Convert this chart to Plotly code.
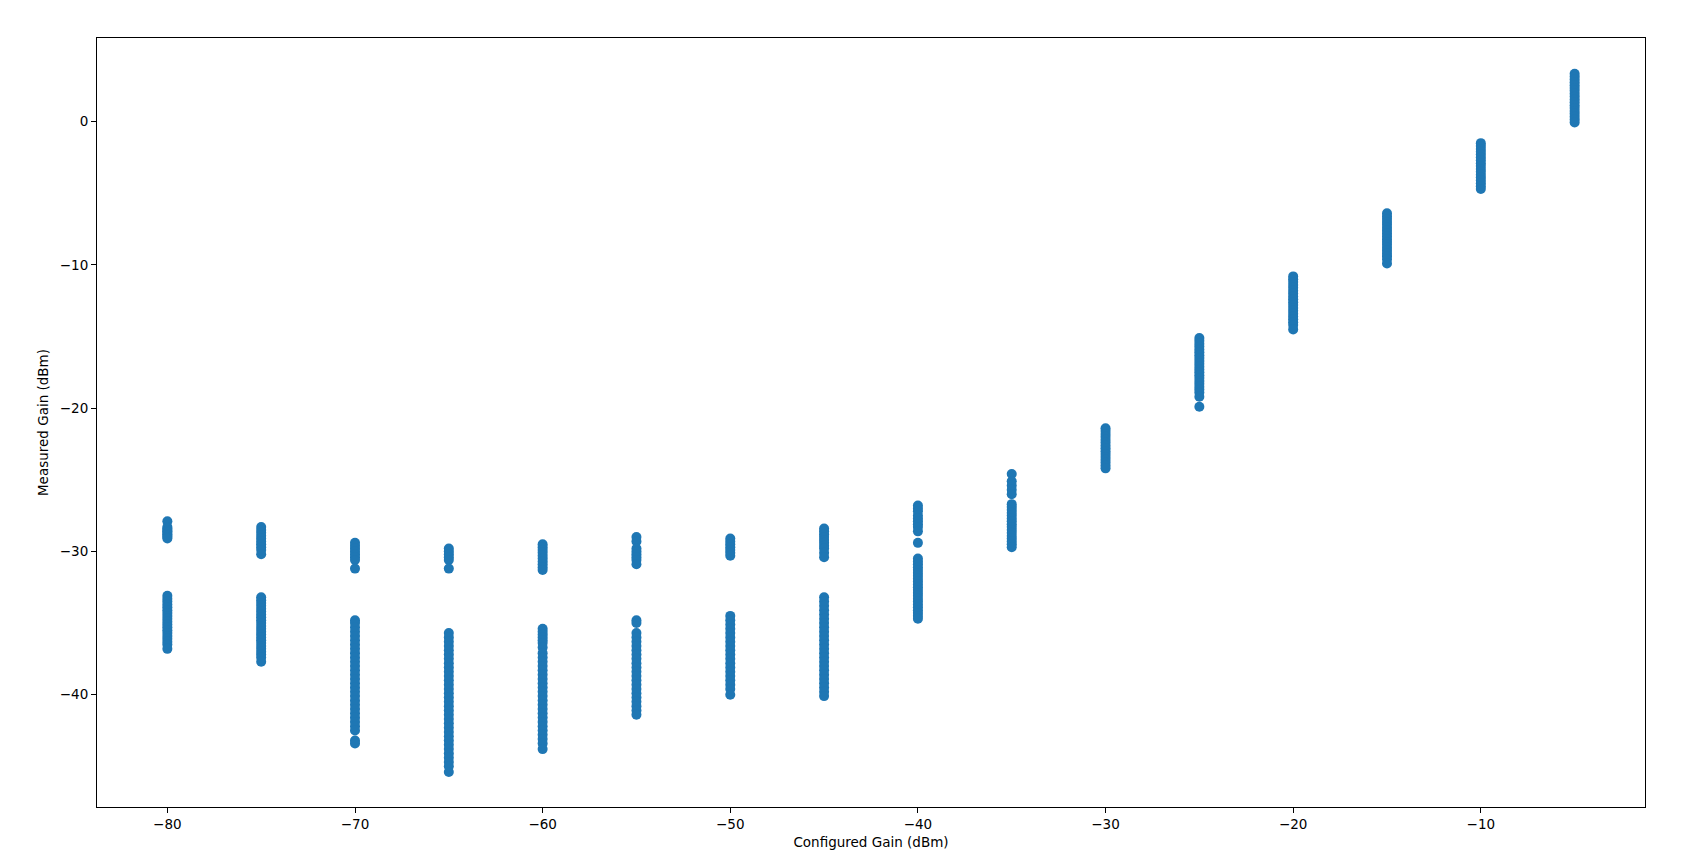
import plotly.graph_objects as go

# Configured gain settings (dBm)
configured = [-80, -75, -70, -65, -60, -55, -50, -45, -40, -35, -30, -25, -20, -15, -10, -5]

# Measured gain readings (dBm) for each configured setting
meas_m80 = [-27.9, -28.3, -28.4, -28.5, -28.6, -28.7, -28.8, -28.9, -29.0, -29.1,
            -33.1, -33.3, -33.5, -33.7, -33.9, -34.1, -34.3, -34.5, -34.7, -34.9,
            -35.1, -35.3, -35.5, -35.7, -35.9, -36.1, -36.3, -36.5, -36.8]
meas_m75 = [-28.3, -28.5, -28.7, -28.9, -29.1, -29.3, -29.5, -29.7, -29.9, -30.2,
            -33.2, -33.4, -33.6, -33.8, -34.0, -34.2, -34.4, -34.6, -34.8, -35.0,
            -35.2, -35.4, -35.6, -35.8, -36.0, -36.2, -36.4, -36.6, -36.8, -37.0,
            -37.2, -37.4, -37.7]
meas_m70 = [-29.4, -29.6, -29.8, -30.0, -30.2, -30.4, -30.6, -31.2,
            -34.8, -35.0, -35.3, -35.6, -35.9, -36.2, -36.5, -36.8, -37.1, -37.4,
            -37.7, -38.0, -38.3, -38.6, -38.9, -39.2, -39.5, -39.8, -40.1, -40.4,
            -40.7, -41.0, -41.3, -41.6, -41.9, -42.2, -42.5, -43.2, -43.4]
meas_m65 = [-29.8, -30.0, -30.2, -30.4, -30.6, -31.2,
            -35.7, -36.0, -36.3, -36.6, -36.9, -37.2, -37.5, -37.8, -38.1, -38.4,
            -38.7, -39.0, -39.3, -39.6, -39.9, -40.2, -40.5, -40.8, -41.1, -41.4,
            -41.7, -42.0, -42.3, -42.6, -42.9, -43.2, -43.5, -43.8, -44.1, -44.4,
            -44.7, -45.0, -45.4]
meas_m60 = [-29.5, -29.7, -29.9, -30.1, -30.3, -30.5, -30.7, -30.9, -31.1, -31.3,
            -35.4, -35.6, -35.8, -36.0, -36.2, -36.4, -36.7,
            -37.1, -37.4, -37.7, -38.0, -38.3, -38.6, -38.9, -39.2, -39.5, -39.8,
            -40.1, -40.4, -40.7, -41.0, -41.3, -41.6, -41.9, -42.2, -42.5, -42.8,
            -43.1, -43.4, -43.8]
meas_m55 = [-29.0, -29.3, -29.8, -30.0, -30.2, -30.4, -30.6, -30.9,
            -34.8, -35.0,
            -35.7, -36.0, -36.3, -36.6, -36.9, -37.2, -37.5, -37.8, -38.1, -38.4,
            -38.7, -39.0, -39.3, -39.6, -39.9, -40.2, -40.5, -40.8, -41.1, -41.4]
meas_m50 = [-29.1, -29.3, -29.5, -29.7, -29.9, -30.1, -30.3,
            -34.5, -34.8, -35.1, -35.4, -35.7, -36.0, -36.3, -36.6, -36.9, -37.2,
            -37.5, -37.8, -38.1, -38.4, -38.7, -39.0, -39.3, -39.6, -40.0]
meas_m45 = [-28.4, -28.6, -28.8, -29.0, -29.2, -29.4, -29.6, -29.8, -30.1, -30.4,
            -33.2, -33.5, -33.8, -34.1, -34.4, -34.7, -35.0, -35.3, -35.6, -35.9,
            -36.2, -36.5, -36.8, -37.1, -37.4, -37.7, -38.0, -38.3, -38.6, -38.9,
            -39.2, -39.5, -39.8, -40.1]
meas_m40 = [-26.8, -27.0, -27.2, -27.5, -27.7, -27.9, -28.1, -28.3, -28.6, -29.4,
            -30.5, -30.7, -30.9, -31.1, -31.3, -31.5, -31.7, -31.9, -32.1, -32.3,
            -32.5, -32.7, -32.9, -33.1, -33.3, -33.5, -33.7, -33.9, -34.1, -34.3,
            -34.5, -34.7]
meas_m35 = [-24.6, -25.1, -25.4, -25.7, -26.0,
            -26.7, -26.9, -27.1, -27.3, -27.5, -27.7, -27.9, -28.1, -28.3, -28.5,
            -28.7, -28.9, -29.1, -29.3, -29.5, -29.7]
meas_m30 = [-21.4, -21.6, -21.8, -22.0, -22.2, -22.4, -22.6, -22.8, -23.0, -23.2,
            -23.4, -23.6, -23.8, -24.0, -24.2]
meas_m25 = [-15.1, -15.3, -15.5, -15.7, -15.9, -16.1, -16.3, -16.5, -16.7, -16.9,
            -17.1, -17.3, -17.5, -17.7, -17.9, -18.1, -18.3, -18.5, -18.7, -18.9,
            -19.2, -19.9]
meas_m20 = [-10.8, -11.0, -11.2, -11.4, -11.6, -11.8, -12.0, -12.2, -12.4, -12.6,
            -12.8, -13.0, -13.2, -13.4, -13.6, -13.8, -14.0, -14.2, -14.5]
meas_m15 = [-6.4, -6.6, -6.8, -7.0, -7.2, -7.4, -7.6, -7.8, -8.0, -8.2, -8.4,
            -8.6, -8.8, -9.0, -9.2, -9.4, -9.6, -9.9]
meas_m10 = [-1.5, -1.7, -1.9, -2.1, -2.3, -2.5, -2.7, -2.9, -3.1, -3.3, -3.5,
            -3.7, -3.9, -4.1, -4.3, -4.5, -4.7]
meas_m5 = [3.35, 3.15, 2.95, 2.75, 2.55, 2.35, 2.15, 1.95, 1.75, 1.55, 1.35,
           1.15, 0.95, 0.75, 0.55, 0.35, 0.15, -0.05]

measured = [meas_m80, meas_m75, meas_m70, meas_m65, meas_m60, meas_m55, meas_m50,
            meas_m45, meas_m40, meas_m35, meas_m30, meas_m25, meas_m20, meas_m15,
            meas_m10, meas_m5]

xs, ys = [], []
for cfg, vals in zip(configured, measured):
    xs.extend([cfg] * len(vals))
    ys.extend(vals)

fig = go.Figure()
fig.add_trace(go.Scatter(
    x=xs, y=ys, mode="markers",
    marker=dict(color="#1f77b4", size=10, line=dict(width=0)),
    showlegend=False,
))

font = dict(family="DejaVu Sans", size=13.5, color="black")

fig.update_layout(
    width=1700, height=856,
    margin=dict(l=89, r=63, t=30, b=57),
    paper_bgcolor="white", plot_bgcolor="white",
    font=font,
)
fig.update_xaxes(
    range=[-83.75, -1.25], tick0=0, dtick=10,
    showline=True, linecolor="black", linewidth=1, mirror=True,
    ticks="outside", ticklen=5, tickcolor="black", showgrid=False, zeroline=False,
    title=dict(text="Configured Gain (dBm)", font=font, standoff=6),
)
fig.update_yaxes(
    range=[-47.84, 5.84], tick0=0, dtick=10,
    showline=True, linecolor="black", linewidth=1, mirror=True,
    ticks="outside", ticklen=5, tickcolor="black", showgrid=False, zeroline=False,
    title=dict(text="Measured Gain (dBm)", font=font, standoff=8),
)

fig.write_html("out.html")
